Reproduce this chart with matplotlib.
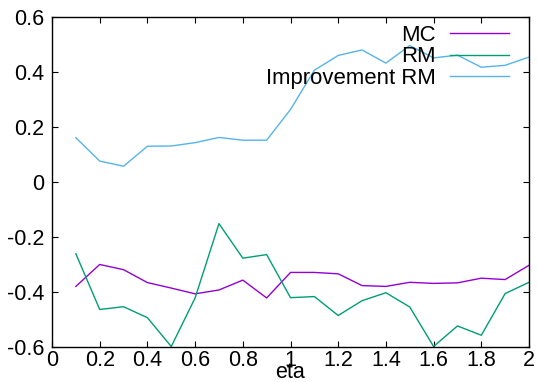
import matplotlib
matplotlib.use("Agg")
import matplotlib.pyplot as plt

eta = [0.1, 0.2, 0.3, 0.4, 0.5, 0.6, 0.7, 0.8, 0.9, 1.0,
       1.1, 1.2, 1.3, 1.4, 1.5, 1.6, 1.7, 1.8, 1.9, 2.0]
mc = [-0.381, -0.301, -0.320, -0.367, -0.387, -0.408, -0.394, -0.358, -0.423, -0.330,
      -0.330, -0.335, -0.378, -0.381, -0.366, -0.370, -0.368, -0.351, -0.356, -0.304]
rm = [-0.262, -0.465, -0.455, -0.495, -0.600, -0.423, -0.152, -0.278, -0.265, -0.422,
      -0.418, -0.487, -0.433, -0.404, -0.456, -0.600, -0.525, -0.559, -0.407, -0.366]
imp_rm = [0.161, 0.076, 0.057, 0.130, 0.131, 0.143, 0.162, 0.152, 0.152, 0.264,
          0.407, 0.461, 0.481, 0.433, 0.497, 0.452, 0.462, 0.418, 0.425, 0.455]
labels = ["MC", "RM", "Improvement RM"]
xticks = [0, 0.2, 0.4, 0.6, 0.8, 1, 1.2, 1.4, 1.6, 1.8, 2]
xticklabels = ["0", "0.2", "0.4", "0.6", "0.8", "1", "1.2", "1.4", "1.6", "1.8", "2"]
yticks = [-0.6, -0.4, -0.2, 0, 0.2, 0.4, 0.6]
yticklabels = ["-0.6", "-0.4", "-0.2", "0", "0.2", "0.4", "0.6"]

plt.rcParams['font.family'] = ['Liberation Sans', 'DejaVu Sans']
fs = 15.5
lfs = 15.9

fig = plt.figure(figsize=(5.38, 3.82), dpi=100)
ax = fig.add_axes([52/538, 1 - 346.5/382, (529 - 52)/538, (346.5 - 17.3)/382])

ax.plot(eta, mc, color="#9400d3", lw=1.0, label=labels[0])
ax.plot(eta, rm, color="#009e73", lw=1.0, label=labels[1])
ax.plot(eta, imp_rm, color="#56b4e9", lw=1.0, label=labels[2])

ax.set_xlim(0, 2)
ax.set_ylim(-0.6, 0.6)
ax.set_xticks(xticks)
ax.set_xticklabels(xticklabels)
ax.set_yticks(yticks)
ax.set_yticklabels(yticklabels)
ax.tick_params(direction="in", length=4.5, width=0.8, top=True, right=True,
               labelsize=fs, colors="black")
ax.tick_params(axis="x", pad=2.5)
ax.tick_params(axis="y", pad=5.5)
for s in ax.spines.values():
    s.set_linewidth(1.0)
ax.set_xlabel("eta", fontsize=fs, labelpad=-6.5)

leg = ax.legend(loc="upper right", markerfirst=False, frameon=False, fontsize=lfs,
                handlelength=2.65, handletextpad=0.68, labelspacing=0.02,
                borderaxespad=0.0, borderpad=0.0,
                bbox_to_anchor=(509/538, 1 - 25/382),
                bbox_transform=fig.transFigure)

fig.savefig("out.png", dpi=100)
